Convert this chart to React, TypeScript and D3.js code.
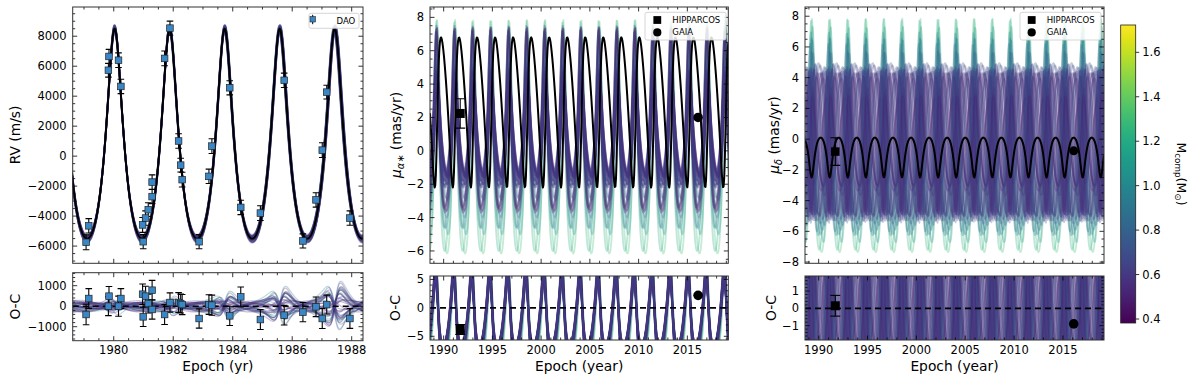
import React, { useEffect, useRef } from "react";
import * as d3 from "d3";

// best orbit
const orbitPeriod = 1.8495;
const orbitTp = 1980.03;
const orbitEcc = 0.28;
const rvGamma = -460;
const rvK = 7000;
const pmaCenter = 2.3;
const pmaAmp = 4.5;
const pmaPhase = -2.07;
const pmdCenter = -1.2;
const pmdAmp = 1.3;
const pmdPhase = Math.PI;

// DAO radial velocities
const rvEpoch = [1979.07, 1979.16, 1979.82, 1979.84, 1980.16, 1980.24, 1980.99, 1980.97, 1981.07, 1981.16, 1981.29, 1981.29, 1981.71, 1981.89, 1982.18, 1982.25, 1982.3, 1982.87, 1983.2, 1983.3, 1983.9, 1984.27, 1984.93, 1985.73, 1986.36, 1986.8, 1987.01, 1987.16, 1987.94];
const rvValue = [-5750, -4650, 5730, 6650, 6400, 4650, -5710, -4590, -4130, -3570, -2700, -1730, 6520, 8540, 1010, -600, -1570, -5710, -1350, 670, 4560, -3420, -3800, 5060, -5660, -2920, 400, 4270, -4130];
const rvError = [500, 480, 460, 470, 490, 480, 470, 500, 480, 460, 470, 480, 490, 470, 480, 460, 490, 470, 480, 490, 470, 480, 490, 480, 470, 480, 490, 460, 480];
const rvResid = [-405, 375, 0, 490, 0, 375, -520, 585, 490, 130, -160, 780, -405, 180, 180, 130, 80, -600, 80, 50, -470, 455, -650, -440, -290, -30, -600, 80, -600];

// Hipparcos / Gaia proper motions
const pmEpoch = [1991.7, 2016.1];
const pmaObs = [2.24, 2.0];
const pmaErr = [0.88, 0.05];
const pmaResid = [-3.8, 2.2];
const pmdObs = [-0.81, -0.76];
const pmdErr = [0.9, 0.05];
const pmdResid = [0.15, -0.9];
const pmdResidErr = [0.6, 0.05];

// posterior draws (heavier companions first)
const sampleMass = [1.3, 1.22, 1.08, 1.0, 0.95, 0.9, 0.84, 0.8, 0.47, 0.52, 0.55, 0.49, 0.58, 0.61, 0.53, 0.64, 0.57, 0.5, 0.67, 0.6, 0.54, 0.72, 0.45, 0.63, 0.56, 0.7, 0.76, 0.51, 0.59, 0.66, 0.48, 0.62, 0.55, 0.69, 0.52, 0.74, 0.58, 0.5, 0.65, 0.6];
const sampleDK = [150, -120, 200, -150, 60, -220, 140, 30, 120, -80, 200, -150, 60, -220, 140, 30, -60, 250, -180, 90, -40, 170, -120, 210, -200, 40, 110, -90, 180, -30, -160, 80, 230, -250, 20, 150, -110, 60, -70, 100];
const sampleDG = [-60, 40, -90, 70, 20, -30, 80, -50, -60, 40, -90, 70, 20, -30, 80, -50, 10, -100, 60, -20, 90, -70, 30, -40, 50, -80, 0, 100, -60, 40, 70, -10, -90, 80, -30, 20, 60, -50, 30, -20];
const sampleDP = [0.006, -0.005, 0.003, -0.008, 0.005, -0.002, 0.008, -0.006, 0.005, -0.003, 0.008, -0.006, 0.002, -0.008, 0.003, 0.006, -0.003, 0.0, -0.005, 0.008, -0.006, 0.003, -0.002, 0.005, -0.006, 0.008, -0.005, 0.002, 0.006, -0.005, 0.003, -0.008, 0.005, -0.003, 0.008, -0.006, 0.005, -0.002, 0.003, -0.005];
const sampleDT = [0.002, -0.004, 0.005, -0.002, 0.003, -0.006, 0.001, 0.004, 0.004, -0.005, 0.002, 0.006, -0.003, 0.001, -0.006, 0.003, 0.005, -0.002, 0.0, -0.004, 0.006, -0.001, 0.003, -0.005, 0.002, -0.003, 0.004, 0.001, -0.006, 0.005, -0.002, 0.003, -0.004, 0.006, -0.001, 0.002, -0.005, 0.004, -0.003, 0.001];
const samplePmaC = [0.85, 0.9, 1.2, 1.35, 1.3, 1.4, 1.5, 1.45, 1.5, 1.4, 1.6, 1.9, 1.5, 1.3, 1.7, 1.5, 1.4, 1.9, 1.5, 1.8, 1.45, 1.6, 1.9, 1.5, 1.35, 1.55, 1.4, 1.65, 1.5, 1.45, 1.6, 1.35, 1.55, 1.5, 1.4, 1.6, 1.5, 1.9, 1.45, 1.55];
const samplePmaA = [7.0, 6.9, 6.2, 6.0, 5.9, 5.4, 4.8, 4.4, 3.0, 3.2, 2.9, 5.6, 3.1, 3.4, 2.8, 3.3, 3.0, 5.4, 3.5, 3.0, 3.1, 3.8, 5.5, 3.2, 2.9, 3.6, 4.2, 3.0, 3.3, 2.8, 3.1, 3.4, 3.0, 3.7, 2.9, 3.2, 3.5, 5.3, 3.0, 3.1];
const samplePmaPh = [-0.3, 0.2, -0.5, 0.0, 0.3, -0.2, 0.1, -0.4, -0.5, 0.3, -0.2, 0.1, -0.4, 0.25, -0.1, 0.0, -0.55, 0.2, -0.3, 0.15, -0.45, 0.05, -0.15, 0.3, -0.35, 0.1, -0.05, -0.25, 0.2, -0.5, 0.0, 0.25, -0.4, 0.15, -0.2, 0.05, -0.3, 0.3, -0.1, -0.45];
const samplePmdC = [0.25, 0.3, 0.3, 0.35, 0.2, 0.3, 0.1, 0.0, -0.3, -0.2, -0.4, -0.1, -0.3, -0.25, -0.35, -0.2, -0.3, -0.15, -0.3, -0.2, -0.4, -0.25, -0.1, -0.3, -0.35, -0.2, 0.1, -0.3, -0.25, -0.2, -0.35, -0.3, -0.15, -0.25, -0.3, -0.2, -0.4, -0.1, -0.3, -0.25];
const samplePmdA = [7.6, 7.5, 7.0, 6.6, 6.4, 6.2, 6.1, 5.6, 4.7, 4.5, 4.9, 3.0, 4.6, 4.8, 4.4, 5.0, 4.7, 3.2, 5.0, 4.6, 4.5, 5.2, 2.8, 4.9, 4.3, 5.1, 5.6, 4.6, 4.8, 4.7, 4.4, 5.0, 3.5, 4.9, 4.6, 4.8, 4.5, 2.9, 4.7, 5.1];
const samplePmdPh = [-0.2, 0.3, -0.6, 0.5, 0.0, -0.4, 0.8, -0.9, 0.2, -2.4, 1.3, -0.7, 2.8, -1.6, 0.9, -3.0, 1.9, -0.2, 2.3, -1.1, 0.5, -2.7, 1.6, -0.4, 2.6, -1.9, 0.0, 3.0, -1.3, 1.1, -2.2, 0.7, -0.9, 2.0, -2.9, 0.35, 1.45, -0.55, 2.45, -1.75];

const massDomain = [0.382, 1.723];
const massTicks = [0.4, 0.6, 0.8, 1.0, 1.2, 1.4, 1.6];

const FONT = "DejaVu Sans, Verdana, sans-serif";
const DAO_BLUE = "#3a87c7";

const trueAnomaly = (t: number, P: number, tp: number) => {
  const twoPi = 2 * Math.PI;
  let M = (twoPi * (t - tp)) / P;
  M = ((M % twoPi) + twoPi) % twoPi;
  let E = M + orbitEcc * Math.sin(M);
  for (let k = 0; k < 12; k++) {
    E -= (E - orbitEcc * Math.sin(E) - M) / (1 - orbitEcc * Math.cos(E));
  }
  return 2 * Math.atan2(Math.sqrt(1 + orbitEcc) * Math.sin(E / 2), Math.sqrt(1 - orbitEcc) * Math.cos(E / 2));
};

export default function App() {
  const svgRef = useRef<SVGSVGElement>(null);

  useEffect(() => {
    const svg = d3.select(svgRef.current);
    svg.selectAll("*").remove();
    const defs = svg.append("defs");

    const color = (m: number) =>
      d3.interpolateViridis((m - massDomain[0]) / (massDomain[1] - massDomain[0]));

    const makePanel = (id: string, x0: number, x1: number, y0: number, y1: number, xd: number[], yd: number[]) => {
      defs.append("clipPath").attr("id", id).append("rect")
        .attr("x", x0).attr("y", y0).attr("width", x1 - x0).attr("height", y1 - y0);
      const x = d3.scaleLinear().domain(xd).range([x0, x1]);
      const y = d3.scaleLinear().domain(yd).range([y1, y0]);
      const g = svg.append("g").attr("clip-path", `url(#${id})`);
      return { x, y, g, x0, x1, y0, y1 };
    };

    const drawAxes = (p: any, xMaj: number, xMin: number, yMaj: number, yMin: number, xLabels: boolean) => {
      const ax = svg.append("g");
      const [dx0, dx1] = p.x.domain();
      const [dy0, dy1] = p.y.domain();
      const eps = 1e-6;
      const xs = (step: number) => d3.range(Math.ceil(dx0 / step - eps) * step, dx1 + eps, step);
      const ys = (step: number) => d3.range(Math.ceil(dy0 / step - eps) * step, dy1 + eps, step);
      const line = (a: number, b: number, c: number, d: number) =>
        ax.append("line").attr("x1", a).attr("y1", b).attr("x2", c).attr("y2", d)
          .attr("stroke", "#000").attr("stroke-width", 0.8);
      xs(xMin).forEach((v) => {
        const major = Math.abs(v / xMaj - Math.round(v / xMaj)) < 1e-6;
        const L = major ? 4.5 : 2.5;
        const px = p.x(v);
        line(px, p.y1, px, p.y1 - L);
        line(px, p.y0, px, p.y0 + L);
        if (major && xLabels) {
          ax.append("text").attr("x", px).attr("y", p.y1 + 13.7).attr("text-anchor", "middle")
            .attr("font-size", 11.5).attr("font-family", FONT).text(d3.format("d")(Math.round(v)));
        }
      });
      ys(yMin).forEach((v) => {
        const major = Math.abs(v / yMaj - Math.round(v / yMaj)) < 1e-6;
        const L = major ? 4.5 : 2.5;
        const py = p.y(v);
        line(p.x0, py, p.x0 + L, py);
        line(p.x1, py, p.x1 - L, py);
        if (major) {
          ax.append("text").attr("x", p.x0 - 6).attr("y", py).attr("dy", "0.35em").attr("text-anchor", "end")
            .attr("font-size", 11.5).attr("font-family", FONT).text(d3.format("d")(Math.round(v / yMaj) * yMaj));
        }
      });
      ax.append("rect").attr("x", p.x0).attr("y", p.y0).attr("width", p.x1 - p.x0).attr("height", p.y1 - p.y0)
        .attr("fill", "none").attr("stroke", "#333").attr("stroke-width", 1);
    };

    const pathOf = (p: any, ts: number[], f: (t: number) => number) =>
      d3.line<number>().x((t) => p.x(t)).y((t) => p.y(f(t)))(ts);

    const drawCurve = (p: any, ts: number[], f: (t: number) => number, stroke: string, width: number, opacity: number) =>
      p.g.append("path").attr("d", pathOf(p, ts, f)).attr("fill", "none")
        .attr("stroke", stroke).attr("stroke-width", width).attr("stroke-opacity", opacity)
        .attr("stroke-linejoin", "round");

    const zeroLine = (p: any) =>
      p.g.append("line").attr("x1", p.x0).attr("x2", p.x1).attr("y1", p.y(0)).attr("y2", p.y(0))
        .attr("stroke", "#000").attr("stroke-width", 1.6).attr("stroke-dasharray", "6,4");

    const errBar = (p: any, t: number, v: number, e: number, cap: number, w: number) => {
      const gx = p.x(t);
      p.g.append("line").attr("x1", gx).attr("x2", gx).attr("y1", p.y(v - e)).attr("y2", p.y(v + e))
        .attr("stroke", "#000").attr("stroke-width", w);
      [v - e, v + e].forEach((c) =>
        p.g.append("line").attr("x1", gx - cap).attr("x2", gx + cap).attr("y1", p.y(c)).attr("y2", p.y(c))
          .attr("stroke", "#000").attr("stroke-width", w));
    };

    // ---------- RV panel ----------
    const rvTop = makePanel("clipRvTop", 72.7, 363, 7, 263.3, [1978.62, 1988.38], [-7150, 9950]);
    const rvBot = makePanel("clipRvBot", 72.7, 363, 272.7, 340.7, [1978.62, 1988.38], [-1683, 1634]);
    const tRv = d3.range(1978.6, 1988.41, 0.01);
    const rvBest = (t: number) => rvGamma + rvK * (Math.cos(trueAnomaly(t, orbitPeriod, orbitTp)) + orbitEcc);
    const rvSample = (i: number) => (t: number) =>
      rvGamma + sampleDG[i] + (rvK + sampleDK[i]) *
        (Math.cos(trueAnomaly(t, orbitPeriod + sampleDP[i], orbitTp + sampleDT[i])) + orbitEcc);

    sampleMass.forEach((m, i) => drawCurve(rvTop, tRv, rvSample(i), color(m), 1.6, 0.3));
    drawCurve(rvTop, tRv, rvBest, "#000", 2, 1);
    rvEpoch.forEach((t, i) => errBar(rvTop, t, rvValue[i], rvError[i], 3.3, 1.1));
    rvEpoch.forEach((t, i) =>
      rvTop.g.append("rect").attr("x", rvTop.x(t) - 3.3).attr("y", rvTop.y(rvValue[i]) - 3.3)
        .attr("width", 6.6).attr("height", 6.6).attr("fill", DAO_BLUE).attr("stroke", "#222").attr("stroke-width", 0.7));

    sampleMass.forEach((m, i) => {
      const f = rvSample(i);
      drawCurve(rvBot, tRv, (t) => f(t) - rvBest(t), color(m), 1.2, 0.3);
    });
    zeroLine(rvBot);
    rvEpoch.forEach((t, i) => errBar(rvBot, t, rvResid[i], rvError[i], 3.3, 1.1));
    rvEpoch.forEach((t, i) =>
      rvBot.g.append("rect").attr("x", rvBot.x(t) - 3.3).attr("y", rvBot.y(rvResid[i]) - 3.3)
        .attr("width", 6.6).attr("height", 6.6).attr("fill", DAO_BLUE).attr("stroke", "#222").attr("stroke-width", 0.7));

    drawAxes(rvTop, 2, 0.5, 2000, 500, false);
    drawAxes(rvBot, 2, 0.5, 1000, 200, true);

    // ---------- proper motion panels ----------
    const tPm = d3.range(1988.6, 2019.25, 0.06);
    const nuPm = (t: number) => trueAnomaly(t, orbitPeriod, orbitTp);
    const pmaBest = (t: number) => pmaCenter + pmaAmp * Math.cos(nuPm(t) + pmaPhase);
    const pmdBest = (t: number) => pmdCenter + pmdAmp * Math.cos(nuPm(t) + pmdPhase);
    const pmaSample = (i: number) => (t: number) => samplePmaC[i] + samplePmaA[i] * Math.cos(nuPm(t) + samplePmaPh[i]);
    const pmdSample = (i: number) => (t: number) => samplePmdC[i] + samplePmdA[i] * Math.cos(nuPm(t) + samplePmdPh[i]);

    const pmaTop = makePanel("clipPmaTop", 430, 728.3, 7, 263.3, [1988.6, 2019.2], [-6.74, 8.62]);
    const pmaBot = makePanel("clipPmaBot", 430, 728.3, 276, 340, [1988.6, 2019.2], [-5.65, 5.6]);
    const pmdTop = makePanel("clipPmdTop", 805, 1104, 7, 263.3, [1988.6, 2019.2], [-8.08, 8.6]);
    const pmdBot = makePanel("clipPmdBot", 805, 1104, 276, 340, [1988.6, 2019.2], [-1.83, 1.87]);

    const square = (p: any, t: number, v: number, s: number) =>
      p.g.append("rect").attr("x", p.x(t) - s / 2).attr("y", p.y(v) - s / 2).attr("width", s).attr("height", s).attr("fill", "#000");
    const dot = (p: any, t: number, v: number, r: number) =>
      p.g.append("circle").attr("cx", p.x(t)).attr("cy", p.y(v)).attr("r", r).attr("fill", "#000");

    sampleMass.forEach((m, i) => drawCurve(pmaTop, tPm, pmaSample(i), color(m), 1.8, 0.3));
    drawCurve(pmaTop, tPm, pmaBest, "#000", 2, 1);
    errBar(pmaTop, pmEpoch[0], pmaObs[0], pmaErr[0], 5, 1.1);
    square(pmaTop, pmEpoch[0], pmaObs[0], 9);
    dot(pmaTop, pmEpoch[1], pmaObs[1], 4.8);

    sampleMass.forEach((m, i) => {
      const f = pmaSample(i);
      drawCurve(pmaBot, tPm, (t) => f(t) - pmaBest(t), color(m), 1.8, 0.3);
    });
    zeroLine(pmaBot);
    errBar(pmaBot, pmEpoch[0], pmaResid[0], pmaErr[0], 5, 1.1);
    square(pmaBot, pmEpoch[0], pmaResid[0], 9);
    dot(pmaBot, pmEpoch[1], pmaResid[1], 4.8);

    sampleMass.forEach((m, i) => drawCurve(pmdTop, tPm, pmdSample(i), color(m), 1.8, 0.3));
    drawCurve(pmdTop, tPm, pmdBest, "#000", 2, 1);
    errBar(pmdTop, pmEpoch[0], pmdObs[0], pmdErr[0], 5, 1.1);
    square(pmdTop, pmEpoch[0], pmdObs[0], 8.5);
    dot(pmdTop, pmEpoch[1], pmdObs[1], 4.5);

    sampleMass.forEach((m, i) => {
      const f = pmdSample(i);
      drawCurve(pmdBot, tPm, (t) => f(t) - pmdBest(t), color(m), 1.8, 0.3);
    });
    zeroLine(pmdBot);
    errBar(pmdBot, pmEpoch[0], pmdResid[0], pmdResidErr[0], 5, 1.1);
    square(pmdBot, pmEpoch[0], pmdResid[0], 9);
    dot(pmdBot, pmEpoch[1], pmdResid[1], 4.8);

    drawAxes(pmaTop, 5, 1, 2, 0.5, false);
    drawAxes(pmaBot, 5, 1, 5, 1, true);
    drawAxes(pmdTop, 5, 1, 2, 0.5, false);
    drawAxes(pmdBot, 5, 1, 1, 0.2, true);

    // ---------- axis titles ----------
    const label = (x: number, y: number, rot: boolean) => {
      const t = svg.append("text").attr("font-family", FONT).attr("font-size", 13.8).attr("text-anchor", "middle");
      if (rot) t.attr("transform", `translate(${x},${y}) rotate(-90)`);
      else t.attr("x", x).attr("y", y);
      return t;
    };
    label(20, 135, true).text("RV (m/s)");
    label(20, 306.7, true).text("O-C");
    label(217.9, 371, false).text("Epoch (yr)");
    const la = label(401, 135, true);
    la.append("tspan").attr("font-style", "italic").text("μ");
    la.append("tspan").attr("font-style", "italic").attr("font-size", 9.8).attr("dy", 3).text("α∗");
    la.append("tspan").attr("dy", -3).text(" (mas/yr)");
    label(400, 308, true).text("O-C");
    label(579.2, 371, false).text("Epoch (year)");
    const ld = label(779, 135, true);
    ld.append("tspan").attr("font-style", "italic").text("μ");
    ld.append("tspan").attr("font-style", "italic").attr("font-size", 9.8).attr("dy", 3).text("δ");
    ld.append("tspan").attr("dy", -3).text(" (mas/yr)");
    label(776, 308, true).text("O-C");
    label(954.5, 371, false).text("Epoch (year)");

    // ---------- legends ----------
    const legendBox = (x: number, y: number, w: number, h: number) =>
      svg.append("rect").attr("x", x).attr("y", y).attr("width", w).attr("height", h).attr("rx", 2)
        .attr("fill", "#fff").attr("fill-opacity", 0.85).attr("stroke", "#ccc").attr("stroke-width", 0.8);
    const legendText = (x: number, y: number, s: string) =>
      svg.append("text").attr("x", x).attr("y", y).attr("font-family", FONT).attr("font-size", 8.5).text(s);

    legendBox(309, 13.3, 50, 15);
    svg.append("line").attr("x1", 312.7).attr("x2", 312.7).attr("y1", 14.8).attr("y2", 24.2).attr("stroke", "#000").attr("stroke-width", 1);
    svg.append("rect").attr("x", 310).attr("y", 16.6).attr("width", 5.4).attr("height", 5.4).attr("fill", DAO_BLUE).attr("stroke", "#222").attr("stroke-width", 0.6);
    legendText(336.5, 23.8, "DAO");

    [[645, 657.3, 672.3], [1020, 1031.7, 1046.7]].forEach(([bx, mx, tx]) => {
      legendBox(bx, 12.3, 81, 27.7);
      svg.append("rect").attr("x", mx - 3.9).attr("y", 16.1).attr("width", 7.8).attr("height", 7.8).attr("fill", "#000");
      svg.append("circle").attr("cx", mx).attr("cy", 32.4).attr("r", 4.1).attr("fill", "#000");
      legendText(tx, 23.2, "HIPPARCOS");
      legendText(tx, 35.4, "GAIA");
    });

    // ---------- colorbar ----------
    const cb = { x: 1120.7, w: 15, y0: 25, y1: 323 };
    const grad = defs.append("linearGradient").attr("id", "viridisGrad")
      .attr("x1", 0).attr("y1", 1).attr("x2", 0).attr("y2", 0);
    d3.range(0, 1.0001, 0.05).forEach((s) =>
      grad.append("stop").attr("offset", s).attr("stop-color", d3.interpolateViridis(s)));
    svg.append("rect").attr("x", cb.x).attr("y", cb.y0).attr("width", cb.w).attr("height", cb.y1 - cb.y0)
      .attr("fill", "url(#viridisGrad)").attr("stroke", "#222").attr("stroke-width", 0.8);
    const cbY = d3.scaleLinear().domain(massDomain).range([cb.y1, cb.y0]);
    massTicks.forEach((m) => {
      svg.append("line").attr("x1", cb.x + cb.w).attr("x2", cb.x + cb.w + 3.5).attr("y1", cbY(m)).attr("y2", cbY(m))
        .attr("stroke", "#000").attr("stroke-width", 0.8);
      svg.append("text").attr("x", cb.x + cb.w + 6.5).attr("y", cbY(m)).attr("dy", "0.35em")
        .attr("font-family", FONT).attr("font-size", 11.5).text(d3.format(".1f")(m));
    });
    const cl = svg.append("text").attr("font-family", FONT).attr("font-size", 12.5).attr("text-anchor", "middle")
      .attr("transform", `translate(1177,174) rotate(90)`);
    cl.append("tspan").text("M");
    cl.append("tspan").attr("font-size", 8.8).attr("dy", 2.5).text("comp");
    cl.append("tspan").attr("dy", -2.5).text("(M");
    cl.append("tspan").attr("font-size", 8.8).attr("dy", 2.5).text("⊙");
    cl.append("tspan").attr("dy", -2.5).text(")");
  }, []);

  return (
    <svg
      ref={svgRef}
      width={1200}
      height={381}
      style={{ position: "absolute", left: 0, top: 0, background: "#fff" }}
    />
  );
}
